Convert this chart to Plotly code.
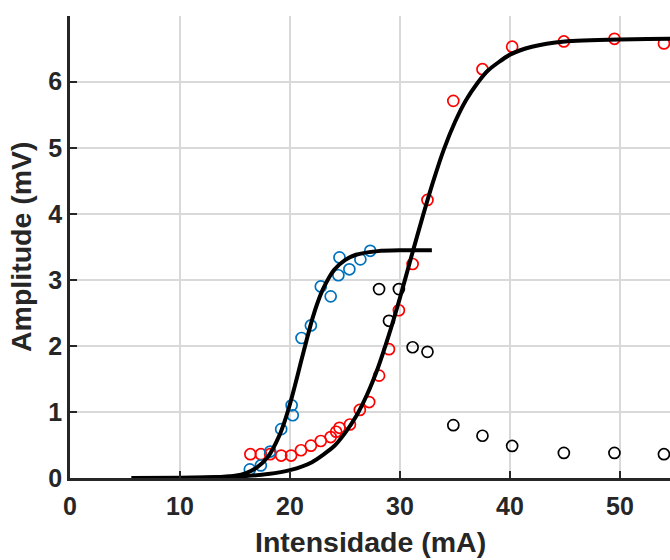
import plotly.graph_objects as go

# Measured responses (intensity in mA, amplitude in mV)
red_x = [16.4, 17.35, 18.2, 19.2, 20.1, 21.0, 21.9, 22.8, 23.7, 24.2, 24.5, 25.45,
         26.35, 27.2, 28.1, 29.0, 29.9, 31.15, 32.5, 34.85, 37.5, 40.2, 44.9, 49.5, 54.0]
red_y = [0.36, 0.36, 0.36, 0.34, 0.34, 0.42, 0.49, 0.56, 0.62, 0.70, 0.76, 0.81,
         1.03, 1.15, 1.55, 1.95, 2.54, 3.24, 4.21, 5.71, 6.19, 6.53, 6.61, 6.65, 6.58]

blue_x = [16.35, 17.35, 18.2, 19.2, 20.15, 20.25, 21.05, 21.9, 22.8, 23.7, 24.4,
          24.5, 25.4, 26.4, 27.3]
blue_y = [0.13, 0.19, 0.40, 0.74, 1.10, 0.95, 2.12, 2.31, 2.90, 2.75, 3.07,
          3.34, 3.16, 3.31, 3.44]

black_x = [28.1, 29.0, 29.9, 31.15, 32.5, 34.85, 37.5, 40.2, 44.9, 49.5, 54.0]
black_y = [2.86, 2.38, 2.86, 1.98, 1.91, 0.80, 0.64, 0.485, 0.38, 0.38, 0.36]

# Sigmoid fit curves, sampled
fit1_x = [5.6, 10, 13, 15, 16, 17, 18, 19, 19.5, 20, 20.5, 21, 21.5, 22, 22.5,
          23, 24, 25, 26, 28, 30, 32.9]
fit1_y = [0, 0, 0.01, 0.035, 0.075, 0.16, 0.32, 0.63, 0.85, 1.12, 1.43, 1.76, 2.08,
          2.39, 2.65, 2.86, 3.15, 3.30, 3.38, 3.435, 3.447, 3.45]

fit2_x = [5.6, 10, 14, 16, 18, 20, 22, 24, 25, 26, 27, 28, 29, 30, 31, 32, 33, 34,
          35, 36, 37, 38, 40, 42, 45, 50, 55, 60]
fit2_y = [0, 0.003, 0.014, 0.03, 0.06, 0.12, 0.24, 0.48, 0.68, 0.93, 1.26, 1.67,
          2.17, 2.73, 3.33, 3.92, 4.48, 4.98, 5.39, 5.72, 5.97, 6.17, 6.41, 6.53,
          6.61, 6.64, 6.65, 6.65]

x_ticks = [0, 10, 20, 30, 40, 50]
y_ticks = [0, 1, 2, 3, 4, 5, 6]

AX = "#262626"
FONT = "Arial, Liberation Sans, sans-serif"

fig = go.Figure()

def circles(xs, ys, color):
    fig.add_trace(go.Scatter(
        x=xs, y=ys, mode="markers",
        marker=dict(symbol="circle-open", size=11, color=color,
                    line=dict(width=1.7, color=color)),
        showlegend=False, hoverinfo="skip"))

circles(red_x, red_y, "#ff0000")
circles(blue_x, blue_y, "#0072bd")
circles(black_x, black_y, "#000000")

for fx, fy in ((fit1_x, fit1_y), (fit2_x, fit2_y)):
    fig.add_trace(go.Scatter(
        x=fx, y=fy, mode="lines",
        line=dict(color="#000000", width=4, shape="spline", smoothing=0.6),
        showlegend=False, hoverinfo="skip"))

axis_common = dict(
    showline=True, linecolor=AX, linewidth=2.5, mirror=False,
    ticks="inside", ticklen=7, tickwidth=2, tickcolor=AX,
    showgrid=True, gridcolor="#d9d9d9", gridwidth=1.5,
    zeroline=False,
    tickfont=dict(family=FONT, size=25, color=AX, weight="bold"),
)

fig.update_layout(
    width=670, height=560,
    margin=dict(l=70, r=0, t=16, b=82, pad=0),
    paper_bgcolor="white", plot_bgcolor="white",
    xaxis=dict(range=[0, 54.55], tickvals=x_ticks, ticklabelstandoff=4, **axis_common),
    yaxis=dict(range=[0, 6.995], tickvals=y_ticks, ticklabelstandoff=0, **axis_common),
    annotations=[
        dict(text="Intensidade (mA)", xref="paper", yref="paper", x=0.5, y=0,
             xanchor="center", yanchor="middle", yshift=-64, showarrow=False,
             font=dict(family=FONT, size=28.5, color=AX, weight="bold")),
        dict(text="Amplitude (mV)", xref="paper", yref="paper", x=0, y=0.5,
             xanchor="center", yanchor="middle", xshift=-49, textangle=-90,
             showarrow=False,
             font=dict(family=FONT, size=28.5, color=AX, weight="bold")),
    ],
)

fig.write_html("out.html")
